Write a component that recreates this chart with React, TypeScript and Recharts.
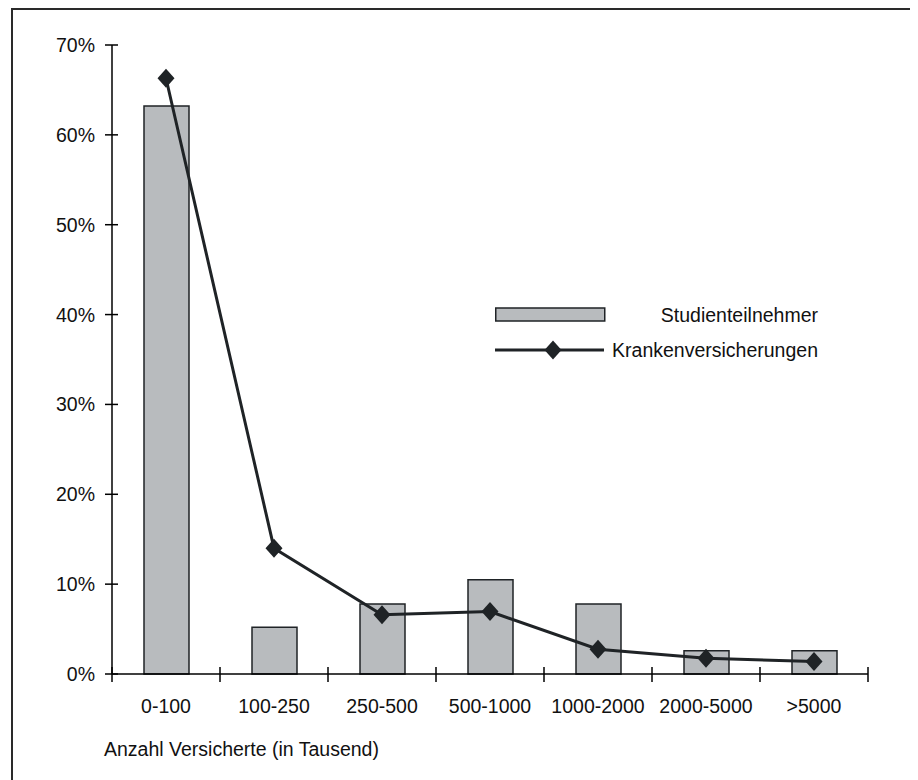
import { Bar, ComposedChart, Label, Legend, Line, XAxis, YAxis } from "recharts";

const categories = ["0-100", "100-250", "250-500", "500-1000", "1000-2000", "2000-5000", ">5000"];
const studienteilnehmer = [63.2, 5.2, 7.8, 10.5, 7.8, 2.6, 2.6];
const krankenversicherungen = [66.3, 14.0, 6.6, 6.95, 2.75, 1.75, 1.4];
const yTicks = [0, 10, 20, 30, 40, 50, 60, 70];

const data = categories.map((name, i) => ({
  name,
  studienteilnehmer: studienteilnehmer[i],
  krankenversicherungen: krankenversicherungen[i],
}));

const FONT = "'Liberation Sans', Arial, sans-serif";
const FS = 19.5;
const INK = "#1f2326";
const BAR_FILL = "#b8bbbe";

function Diamond({ cx, cy }: any) {
  if (cx == null || cy == null) return null;
  return <polygon points={`${cx},${cy - 9.5} ${cx + 8.5},${cy} ${cx},${cy + 9.5} ${cx - 8.5},${cy}`} fill={INK} />;
}

function YTick({ x, y, payload }: any) {
  return (
    <g>
      <line x1={x - 7} x2={x + 6} y1={y} y2={y} stroke="#000" strokeWidth={1.5} />
      <text x={x - 17} y={y + 7} textAnchor="end" fontSize={FS} fontFamily={FONT} fill="#111">
        {`${payload.value}%`}
      </text>
    </g>
  );
}

function XTick({ x, y, payload, index }: any) {
  const off = payload.offset || 54;
  return (
    <g>
      <line x1={x - off} x2={x - off} y1={y - 7} y2={y + 8} stroke="#000" strokeWidth={1.5} />
      {index === categories.length - 1 && (
        <line x1={x + off} x2={x + off} y1={y - 7} y2={y + 8} stroke="#000" strokeWidth={1.5} />
      )}
      <text x={x} y={y + 39} textAnchor="middle" fontSize={FS} fontFamily={FONT} fill="#111">
        {payload.value}
      </text>
    </g>
  );
}

function LegendBox() {
  return (
    <svg width={340} height={70} style={{ display: "block" }}>
      <rect x={0.75} y={8} width={109} height={13} fill={BAR_FILL} stroke={INK} strokeWidth={1.5} />
      <text x={323} y={22} textAnchor="end" fontSize={FS} fontFamily={FONT} fill="#111">
        Studienteilnehmer
      </text>
      <line x1={0} x2={109} y1={50} y2={50} stroke={INK} strokeWidth={3} />
      <Diamond cx={58} cy={50} />
      <text x={323} y={57} textAnchor="end" fontSize={FS} fontFamily={FONT} fill="#111">
        Krankenversicherungen
      </text>
    </svg>
  );
}

export default function App() {
  return (
    <div style={{ position: "relative", width: 910, height: 772, overflow: "hidden", background: "#fff" }}>
      <div
        style={{
          position: "absolute",
          left: 3,
          top: 0,
          width: 1000,
          height: 1000,
          borderTop: "2px solid #2a2a2a",
          borderLeft: "2px solid #2a2a2a",
        }}
      />
      <ComposedChart
        width={910}
        height={772}
        data={data}
        margin={{ top: 37, right: 50, bottom: 46, left: 44 }}
        barCategoryGap="29%"
      >
        <XAxis
          dataKey="name"
          height={60}
          tickLine={false}
          tickSize={0}
          tickMargin={0}
          interval={0}
          tick={<XTick />}
          axisLine={{ stroke: "#000", strokeWidth: 1.5 }}
        >
          <Label
            content={({ viewBox }: any) => (
              <text x={viewBox.x - 8} y={viewBox.y + 82} fontSize={FS} fontFamily={FONT} fill="#111">
                Anzahl Versicherte (in Tausend)
              </text>
            )}
          />
        </XAxis>
        <YAxis
          width={60}
          domain={[0, 70]}
          ticks={yTicks}
          interval={0}
          tickLine={false}
          tickSize={0}
          tickMargin={0}
          tick={<YTick />}
          axisLine={{ stroke: "#000", strokeWidth: 1.5 }}
        />
        <Legend
          layout="vertical"
          align="center"
          verticalAlign="middle"
          content={() => <LegendBox />}
          wrapperStyle={{ position: "absolute", left: 487, top: 292, width: 340 }}
        />
        <Bar
          dataKey="studienteilnehmer"
          name="Studienteilnehmer"
          barSize={45}
          fill={BAR_FILL}
          stroke={INK}
          strokeWidth={1.5}
          isAnimationActive={false}
        />
        <Line
          dataKey="krankenversicherungen"
          name="Krankenversicherungen"
          type="linear"
          stroke={INK}
          strokeWidth={3}
          dot={<Diamond />}
          activeDot={false}
          isAnimationActive={false}
        />
      </ComposedChart>
    </div>
  );
}
